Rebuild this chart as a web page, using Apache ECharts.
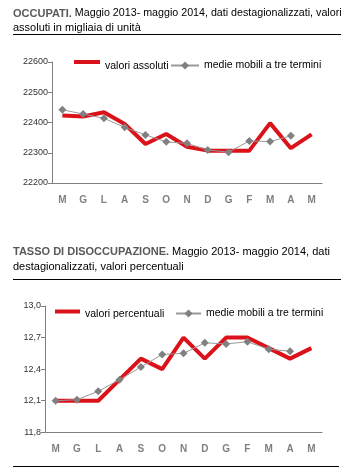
<!DOCTYPE html>
<html>
<head>
<meta charset="utf-8">
<script src="https://cdn.jsdelivr.net/npm/echarts@6/dist/echarts.min.js"></script>
<style>
html,body{margin:0;padding:0;background:#fff;}
#c{width:353px;height:473px;}
</style>
</head>
<body>
<div id="c"></div>
<script>
var months = ['M','G','L','A','S','O','N','D','G','F','M','A','M'];
var occupatiValori = [22423,22420,22434,22395,22329,22362,22320,22307,22307,22307,22398,22315,22361];
var occupatiMedie = [22442,22428,22414,22384,22359,22336,22331,22309,22302,22339,22337,22356,null];
var occupatiTicks = [22200,22300,22400,22500,22600];
var tassoValori = [12.1,12.1,12.1,12.3,12.5,12.4,12.7,12.5,12.7,12.7,12.6,12.5,12.6];
var tassoMedie = [12.1,12.11,12.19,12.3,12.42,12.54,12.55,12.65,12.64,12.66,12.59,12.57,null];
var tassoTicks = ['11,8','12,1','12,4','12,7','13,0'];

var FONT = '"Liberation Sans", Arial, sans-serif';
var RED = '#dc121b';
var GRAY = '#808080';

var chart = echarts.init(document.getElementById('c'), null, {renderer:'canvas'});

function yAxisBase(grid){
  return {
    type:'value', gridIndex:grid,
    axisLine:{show:true, lineStyle:{color:'#808080', width:1}},
    axisTick:{show:true, length:4, lineStyle:{color:'#808080'}},
    splitLine:{show:false},
    axisLabel:{color:'#333', fontSize:9, fontFamily:FONT, margin:4}
  };
}
function xAxisBase(grid){
  return {
    type:'category', gridIndex:grid, data:months, boundaryGap:true,
    axisLine:{show:true, lineStyle:{color:'#808080', width:1}},
    axisTick:{show:false},
    axisLabel:{color:'#808080', fontSize:10, fontWeight:'bold', fontFamily:FONT, margin:12, interval:0}
  };
}
var y1 = yAxisBase(0);
y1.min = occupatiTicks[0]; y1.max = occupatiTicks[occupatiTicks.length-1]; y1.interval = 100;
y1.axisLabel.formatter = function(v){ return String(Math.round(v)); };
var y2 = yAxisBase(1);
y2.min = 11.8; y2.max = 13.0; y2.interval = 0.3;
y2.axisLabel.formatter = function(v){
  var i = Math.round((v - 11.8) / 0.3);
  return tassoTicks[i] !== undefined ? tassoTicks[i] : v.toFixed(1).replace('.', ',');
};

var legendText = {fontSize:10.5, fontFamily:FONT, color:'#000'};
var redIconTop = 'path://M0,0L26,0L26,4L0,4Z M0,12L0.01,12L0,11.99Z';
var redIconBottom = 'path://M0,0L25,0L25,4L0,4Z M0,10L0.01,10L0,9.99Z';

var option = {
  animation:false,
  backgroundColor:'#fff',
  grid:[
    {left:52, top:62, width:270, height:121},
    {left:45, top:306, width:277, height:126.3}
  ],
  xAxis:[xAxisBase(0), xAxisBase(1)],
  yAxis:[y1, y2],
  legend:[
    {data:[{name:'valori assoluti', icon:redIconTop}], left:74, top:60, padding:0, itemWidth:26, itemHeight:12, itemGap:4,
     itemStyle:{color:RED}, textStyle:legendText, selectedMode:false},
    {data:['medie mobili a tre termini'], left:170, top:60, padding:0, itemWidth:28, itemHeight:10, textStyle:legendText, selectedMode:false},
    {data:[{name:'valori percentuali', icon:redIconBottom}], left:55, top:309, padding:0, itemWidth:25, itemHeight:10, itemGap:3,
     itemStyle:{color:RED}, textStyle:legendText, selectedMode:false},
    {data:['medie mobili a tre termini'], left:175, top:308, padding:0, itemWidth:25, itemHeight:10, textStyle:legendText, selectedMode:false}
  ],
  series:[
    {name:'valori assoluti', type:'line', xAxisIndex:0, yAxisIndex:0, data:occupatiValori,
     symbol:'none', lineStyle:{color:RED, width:4}, itemStyle:{color:RED}},
    {name:'medie mobili a tre termini', type:'line', xAxisIndex:0, yAxisIndex:0, data:occupatiMedie,
     symbol:'diamond', symbolSize:8, lineStyle:{color:'#999', width:1}, itemStyle:{color:GRAY}},
    {name:'valori percentuali', type:'line', xAxisIndex:1, yAxisIndex:1, data:tassoValori,
     symbol:'none', lineStyle:{color:RED, width:4}, itemStyle:{color:RED}},
    {name:'medie mobili a tre termini', type:'line', xAxisIndex:1, yAxisIndex:1, data:tassoMedie,
     symbol:'diamond', symbolSize:8, lineStyle:{color:'#999', width:1}, itemStyle:{color:GRAY}}
  ],
  graphic:[
    {type:'text', left:13, top:8, style:{text:'{b|OCCUPATI.}{n| Maggio 2013- maggio 2014, dati destagionalizzati, valori}',
      font:'11px '+FONT, fill:'#000', rich:{
        b:{fontWeight:'bold', fill:'#595959', fontSize:11, fontFamily:FONT},
        n:{fill:'#000', fontSize:10.7, fontFamily:FONT}}}},
    {type:'text', left:13, top:22, style:{text:'assoluti in migliaia di unità', font:'11px '+FONT, fill:'#000'}},
    {type:'line', shape:{x1:13, y1:34.5, x2:341, y2:34.5}, style:{stroke:'#000', lineWidth:1}},
    {type:'text', left:13, top:246, style:{text:'{b|TASSO DI DISOCCUPAZIONE.} Maggio 2013- maggio 2014, dati',
      font:'11px '+FONT, fill:'#000', rich:{b:{fontWeight:'bold', fill:'#595959', fontSize:11, fontFamily:FONT}}}},
    {type:'text', left:13, top:261, style:{text:'destagionalizzati, valori percentuali', font:'11px '+FONT, fill:'#000'}},
    {type:'line', shape:{x1:13, y1:279.5, x2:341, y2:279.5}, style:{stroke:'#000', lineWidth:1}},
    {type:'line', shape:{x1:13, y1:466.5, x2:339, y2:466.5}, style:{stroke:'#000', lineWidth:1}}
  ]
};
chart.setOption(option);
</script>
</body>
</html>
